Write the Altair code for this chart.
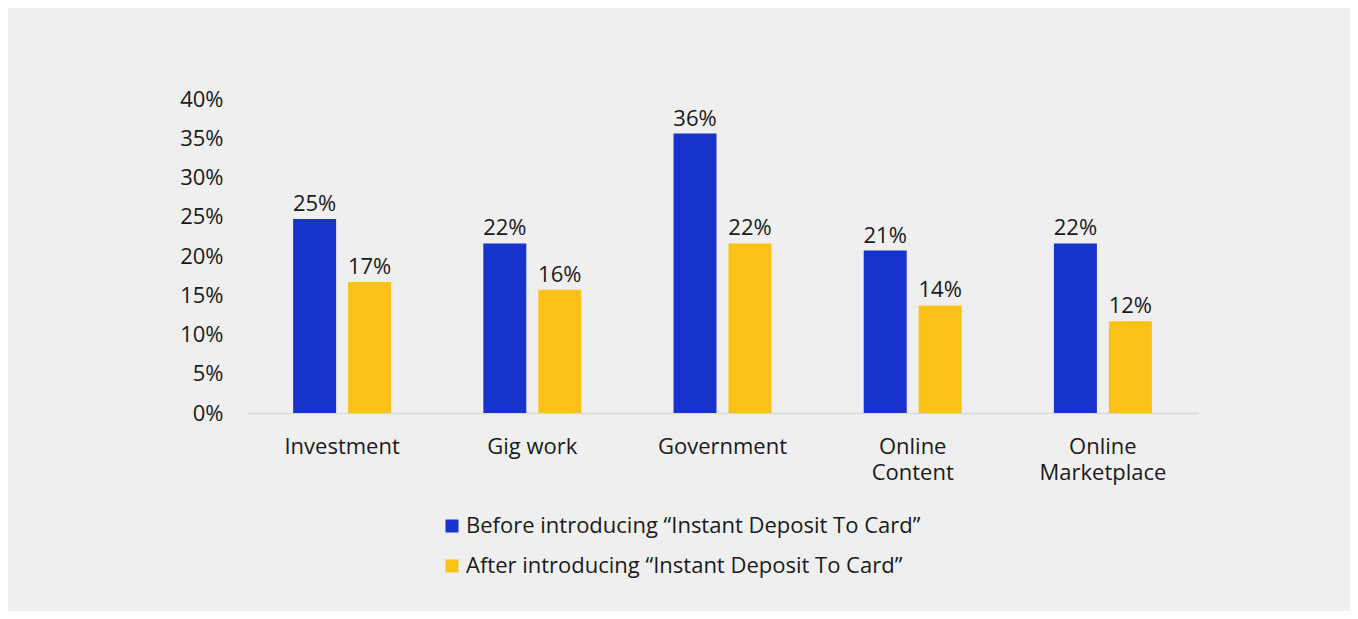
import altair as alt
import pandas as pd

categories = ["Investment", "Gig work", "Government", "Online Content", "Online Marketplace"]
series = ["Before introducing “Instant Deposit To Card”", "After introducing “Instant Deposit To Card”"]
before_vals = [24.7, 21.6, 35.6, 20.7, 21.6]
after_vals = [16.7, 15.7, 21.6, 13.7, 11.7]
y_ticks = [0, 5, 10, 15, 20, 25, 30, 35, 40]
colors = ["#1733CC", "#FCC117"]

rows = []
for c, b, a in zip(categories, before_vals, after_vals):
    rows.append({"category": c, "series": series[0], "value": b})
    rows.append({"category": c, "series": series[1], "value": a})
df = pd.DataFrame(rows)

FONT = "Open Sans"
TXT = "#1a1a1a"

x_enc = alt.X(
    "category:N",
    sort=categories,
    scale=alt.Scale(paddingInner=0, paddingOuter=0),
    axis=alt.Axis(
        title=None,
        labelAngle=0,
        labelFont=FONT,
        labelFontSize=22,
        labelColor=TXT,
        labelPadding=23,
        labelLineHeight=26,
        labelBaseline="top",
        ticks=False,
        domainColor="#d9d9d9",
        domainWidth=1.5,
        labelExpr="indexof(datum.label, 'Online') == 0 ? split(datum.label, ' ') : datum.label",
    ),
)
xoff_enc = alt.XOffset(
    "series:N",
    sort=series,
    scale=alt.Scale(paddingInner=0.218, paddingOuter=0.839),
)
y_enc = alt.Y(
    "value:Q",
    scale=alt.Scale(domain=[0, 40], nice=False),
    axis=alt.Axis(
        title=None,
        values=y_ticks,
        tickCount=9,
        labelExpr="datum.value + '%'",
        labelFont=FONT,
        labelFontSize=22,
        labelColor=TXT,
        labelPadding=24,
        labelOverlap=False,
        ticks=False,
        domain=False,
        grid=False,
    ),
)
color_enc = alt.Color(
    "series:N",
    sort=series,
    scale=alt.Scale(domain=series, range=colors),
    legend=alt.Legend(
        title=None,
        orient="none",
        legendX=194,
        legendY=416,
        direction="vertical",
        symbolType="square",
        symbolSize=169,
        symbolStrokeWidth=0,
        labelFont=FONT,
        labelFontSize=22,
        labelColor=TXT,
        labelOffset=3,
        labelLimit=0,
        rowPadding=18,
    ),
)

bars = alt.Chart(df).mark_bar().encode(
    x=x_enc, xOffset=xoff_enc, y=y_enc, color=color_enc
)
labels = (
    alt.Chart(df)
    .transform_calculate(lbl="format(datum.value, '.0f') + '%'")
    .mark_text(font=FONT, fontSize=22, color=TXT, baseline="alphabetic", dy=-8)
    .encode(
        x=x_enc,
        xOffset=xoff_enc,
        y=y_enc,
        text="lbl:N",
    )
)

chart = (
    alt.layer(bars, labels)
    .properties(
        width=951,
        height=314,
        background="#efefef",
        padding={"left": 239, "top": 91, "right": 152, "bottom": 198},
        autosize=alt.AutoSizeParams(type="none"),
    )
    .configure_view(stroke=None)
    .configure_axisY(labelOverlap=False)
)

chart.save("out.html", embed_options={"renderer": "svg", "actions": False})
